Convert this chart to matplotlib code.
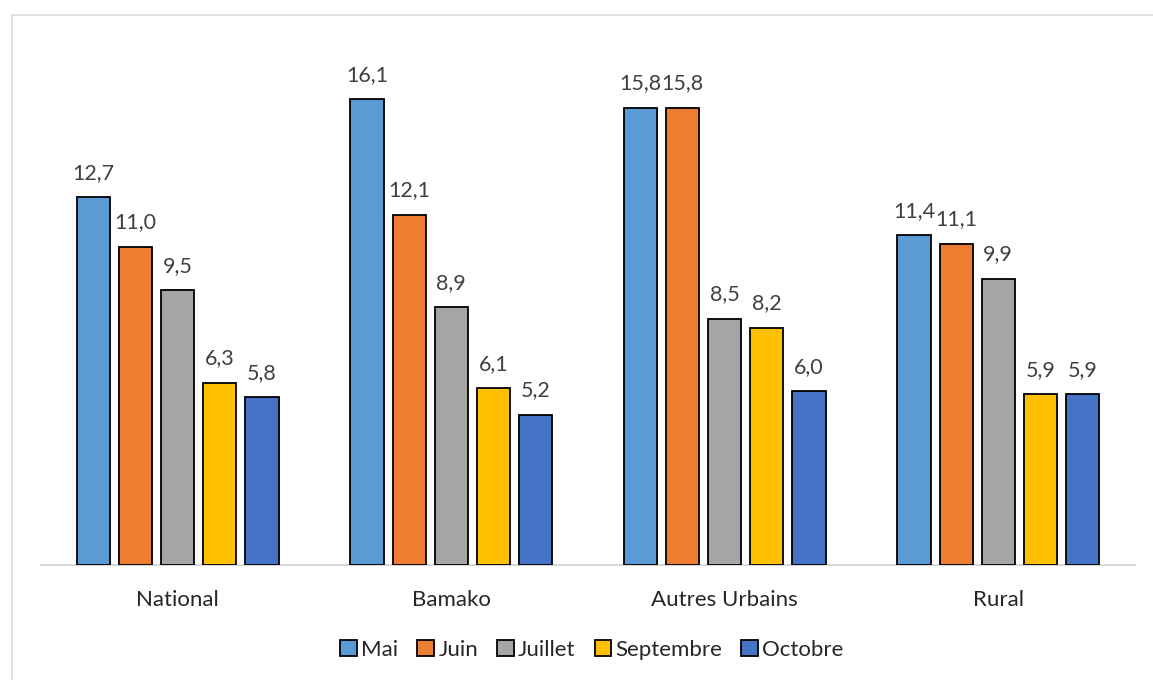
import matplotlib
matplotlib.use("Agg")
import matplotlib.pyplot as plt
from matplotlib.patches import Rectangle, Patch
import numpy as np

categories = ["National", "Bamako", "Autres Urbains", "Rural"]
series_names = ["Mai", "Juin", "Juillet", "Septembre", "Octobre"]
mai = [12.7, 16.1, 15.8, 11.4]
juin = [11.0, 12.1, 15.8, 11.1]
juillet = [9.5, 8.9, 8.5, 9.9]
septembre = [6.3, 6.1, 8.2, 5.9]
octobre = [5.8, 5.2, 6.0, 5.9]
series_values = [mai, juin, juillet, septembre, octobre]
colors = ["#5B9BD5", "#ED7D31", "#A5A5A5", "#FFC000", "#4472C4"]

plt.rcParams['font.family'] = ['Lato', 'DejaVu Sans']

fig = plt.figure(figsize=(11.53, 6.8), dpi=100)
fig.patches.append(Rectangle((12/1153, -0.1), 1.2, (680-15)/680 + 0.1,
                             transform=fig.transFigure, fill=False,
                             edgecolor="#D9D9D9", linewidth=1.2))

ax = fig.add_axes([41/1153, 115/680, (1135-41)/1153, 0.766])
x = np.arange(len(categories))
width = 0.121
step = 0.154
for i, (name, vals, c) in enumerate(zip(series_names, series_values, colors)):
    pos = x + (i - 2) * step
    ax.bar(pos, vals, width, color=c, edgecolor="black", linewidth=1.3,
           label=name, zorder=3)
    for xb, v in zip(pos, vals):
        ax.text(xb, v + 0.5, f"{v:.1f}".replace(".", ","), ha="center",
                va="bottom", fontsize=15.5, color="#404040")

ax.set_xlim(-0.5, len(categories) - 0.5)
ax.set_ylim(0, 18)
ax.set_yticks([])
ax.set_xticks(x)
ax.set_xticklabels(categories, fontsize=16, color="#262626")
ax.tick_params(axis="x", length=0, pad=18)
for s in ["top", "right", "left"]:
    ax.spines[s].set_visible(False)
ax.spines["bottom"].set_color("#D9D9D9")
ax.spines["bottom"].set_linewidth(1.5)
ax.spines["bottom"].set_zorder(2)

handles = [Patch(facecolor=c, edgecolor="black", linewidth=1.3) for c in colors]
fig.legend(handles, series_names, loc="center", bbox_to_anchor=(592/1153, 1 - 650/680),
           ncol=5, frameon=False, fontsize=16, handlelength=0.75, handleheight=0.75,
           handletextpad=0.2, columnspacing=0.85, labelcolor="#262626")

fig.savefig("out.png", dpi=100)
